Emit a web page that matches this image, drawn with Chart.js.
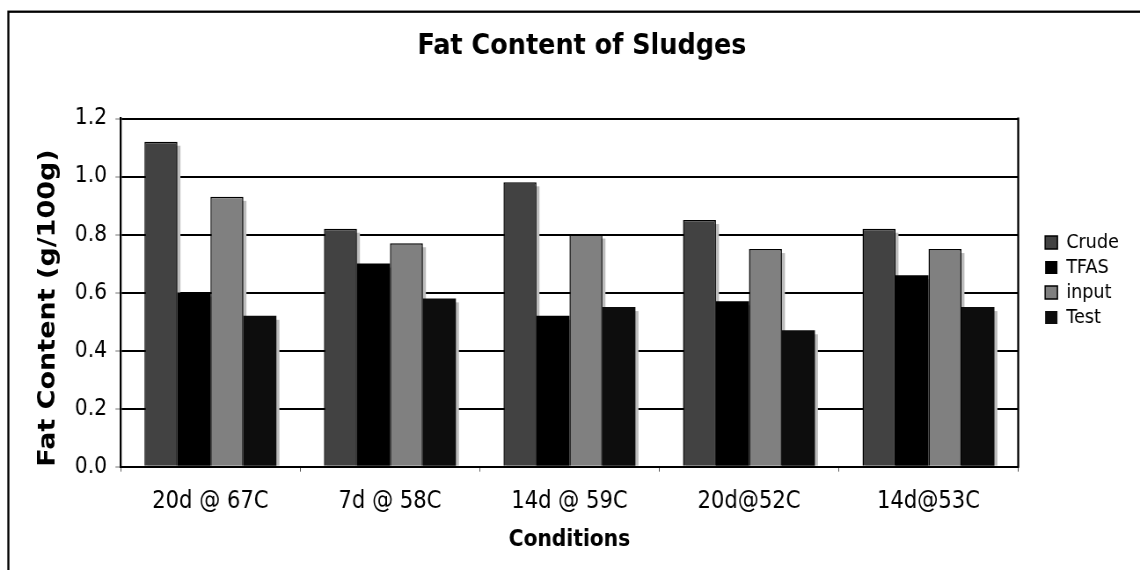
<!DOCTYPE html>
<html><head><meta charset="utf-8">
<script src="https://cdn.jsdelivr.net/npm/chart.js@4.4.0/dist/chart.umd.min.js"></script>
<style>
html,body{margin:0;padding:0;background:#fff;overflow:hidden}
#c{display:block;width:1140px !important;height:570px !important}
</style></head><body>
<canvas id="c" width="1296" height="570" style="width:1140px;height:570px"></canvas>
<script>
// ---- data ----
const categories = ['20d @ 67C', '7d @ 58C', '14d @ 59C', '20d@52C', '14d@53C'];
const seriesNames = ['Crude', 'TFAS', 'input', 'Test'];
const crude = [1.12, 0.82, 0.98, 0.85, 0.82];
const tfas  = [0.60, 0.70, 0.52, 0.57, 0.66];
const input = [0.93, 0.77, 0.80, 0.75, 0.75];
const test  = [0.52, 0.58, 0.55, 0.47, 0.55];
const yTickLabels = ['0.0', '0.2', '0.4', '0.6', '0.8', '1.0', '1.2'];
const chartTitle = 'Fat Content of Sludges';
const xTitle = 'Conditions';
const yTitle = 'Fat Content (g/100g)';

const FONT = "'DejaVu Sans', Verdana, sans-serif";
Chart.defaults.font.family = FONT;
Chart.defaults.color = '#000';

const frame = {
  id: 'frame',
  beforeDraw(chart) {
    const ctx = chart.ctx;
    ctx.save();
    ctx.fillStyle = '#fff';
    ctx.fillRect(0, 0, chart.width, chart.height);
    ctx.strokeStyle = '#000';
    ctx.lineWidth = 2.3;
    ctx.strokeRect(9.5, 11.7, chart.width + 50, chart.height + 50);
    ctx.restore();
  },
  beforeDatasetsDraw(chart) {
    const ctx = chart.ctx;
    ctx.save();
    ctx.fillStyle = '#bdbdbd';
    chart.data.datasets.forEach((ds, i) => {
      chart.getDatasetMeta(i).data.forEach(el => {
        const p = el.getProps(['x', 'y', 'base', 'width'], true);
        ctx.fillRect(p.x - p.width / 2 + 3.4, p.y + 4, p.width, p.base - p.y - 4);
      });
    });
    ctx.restore();
  },
  afterDatasetsDraw(chart) {
    const a = chart.chartArea, ctx = chart.ctx;
    ctx.save();
    ctx.strokeStyle = '#000';
    ctx.lineWidth = 2.3;
    ctx.beginPath();
    ctx.moveTo(a.right, a.top - 1);
    ctx.lineTo(a.right, a.bottom + 1);
    ctx.stroke();
    ctx.restore();
  }
};

new Chart(document.getElementById('c'), {
  type: 'bar',
  data: {
    labels: categories,
    datasets: [
      { label: seriesNames[0], data: crude, backgroundColor: '#424242', borderColor: '#000', borderWidth: 1.5 },
      { label: seriesNames[1], data: tfas,  backgroundColor: '#000000', borderColor: '#000', borderWidth: 0 },
      { label: seriesNames[2], data: input, backgroundColor: '#808080', borderColor: '#000', borderWidth: 1.5 },
      { label: seriesNames[3], data: test,  backgroundColor: '#0d0d0d', borderColor: '#000', borderWidth: 0 }
    ]
  },
  options: {
    responsive: false,
    devicePixelRatio: 1,
    animation: false,
    categoryPercentage: 0.735,
    barPercentage: 1.0,
    layout: { padding: { left: 41, right: 14, top: 0, bottom: 9.8 } },
    plugins: {
      title: {
        display: true, text: chartTitle, color: '#000',
        font: { family: FONT, size: 29, weight: 'bold', lineHeight: 1.2 },
        padding: { top: 29, bottom: 54.7 }
      },
      legend: {
        display: true, position: 'right', align: 'center',
        labels: {
          boxWidth: 14, boxHeight: 13, padding: 5, color: '#000',
          font: { family: FONT, size: 20 }
        }
      },
      tooltip: { enabled: false }
    },
    scales: {
      x: {
        offset: true,
        grid: { display: true, drawOnChartArea: false, tickLength: 5, tickColor: '#555', tickWidth: 1 },
        border: { display: true, color: '#000', width: 2 },
        ticks: { color: '#000', padding: 16.2, font: { family: FONT, size: 24, lineHeight: 1.15 }, maxRotation: 0 },
        title: { display: true, text: xTitle, color: '#000', font: { family: FONT, size: 23, weight: 'bold', lineHeight: 0.55 }, padding: { top: 2, bottom: 13.9 } }
      },
      y: {
        min: 0, max: 1.2,
        grid: { color: '#000', lineWidth: 2, tickLength: 6, tickColor: '#777', tickWidth: 1 },
        border: { display: true, color: '#000', width: 2.3 },
        ticks: { stepSize: 0.2, padding: 9.6, color: '#000', font: { family: FONT, size: 23 },
                 callback: (v, i) => yTickLabels[i] },
        title: { display: true, text: yTitle, align: 'start', color: '#000', font: { family: FONT, size: 27, weight: 'bold', lineHeight: 1.0 }, padding: { top: 0, bottom: 7.4 } }
      },
      pad: {
        type: 'linear', position: 'right', display: true,
        grid: { display: false }, border: { display: false }, ticks: { display: false },
        afterFit: (s) => { s.width = 25.6; }
      }
    }
  },
  plugins: [frame]
});
</script>
</body></html>
